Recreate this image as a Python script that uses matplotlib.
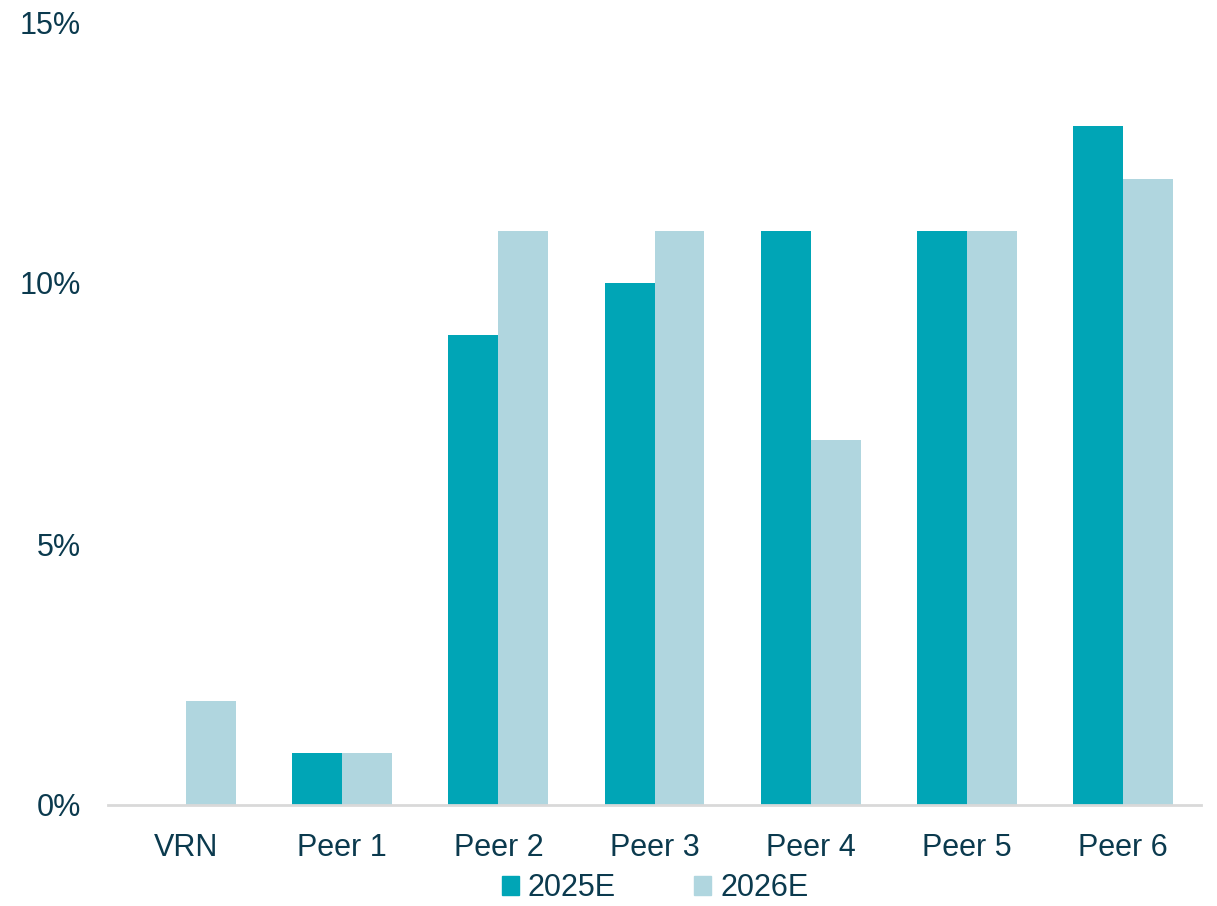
import matplotlib
matplotlib.use("Agg")
import matplotlib.pyplot as plt
import numpy as np
from matplotlib.patches import Patch

categories = ["VRN", "Peer 1", "Peer 2", "Peer 3", "Peer 4", "Peer 5", "Peer 6"]
s2025 = [0, 1, 9, 10, 11, 11, 13]
s2026 = [2, 1, 11, 11, 7, 11, 12]
yticks = [0, 5, 10, 15]
ytick_labels = ["0%", "5%", "10%", "15%"]

c1 = "#00A5B6"
c2 = "#B0D6DF"
tc = "#0B3A4E"

plt.rcParams['font.family'] = ['Liberation Sans', 'DejaVu Sans']

W, H = 1217, 906
fig = plt.figure(figsize=(W / 100, H / 100), dpi=100)
ax = fig.add_axes([108 / W, 1 - 805 / H, (1201 - 108) / W, (805 - 22) / H])

x = np.arange(len(categories))
bw = 0.32
ax.bar(x - bw / 2, s2025, bw, color=c1, label="2025E")
ax.bar(x + bw / 2, s2026, bw, color=c2, label="2026E")

ax.set_xlim(-0.5, len(categories) - 0.5)
ax.set_ylim(0, 15)
ax.set_yticks(yticks)
ax.set_yticklabels(ytick_labels)
ax.set_xticks(x)
ax.set_xticklabels(categories)
ax.tick_params(axis='both', length=0, labelsize=22, colors=tc)
ax.tick_params(axis='y', pad=19.5)
ax.tick_params(axis='x', pad=20)
for s in ["top", "right", "left"]:
    ax.spines[s].set_visible(False)
ax.spines["bottom"].set_color("#D9D9D9")
ax.spines["bottom"].set_linewidth(2)

handles = [Patch(color=c1, label="2025E"), Patch(color=c2, label="2026E")]
leg = fig.legend(handles=handles, loc="center", bbox_to_anchor=(655 / W, 1 - 888 / H),
                 ncol=2, frameon=False, fontsize=22, handlelength=0.56, handleheight=0.56,
                 handletextpad=0.3, columnspacing=2.55)
for t in leg.get_texts():
    t.set_color(tc)

fig.savefig("out.png", dpi=100)
